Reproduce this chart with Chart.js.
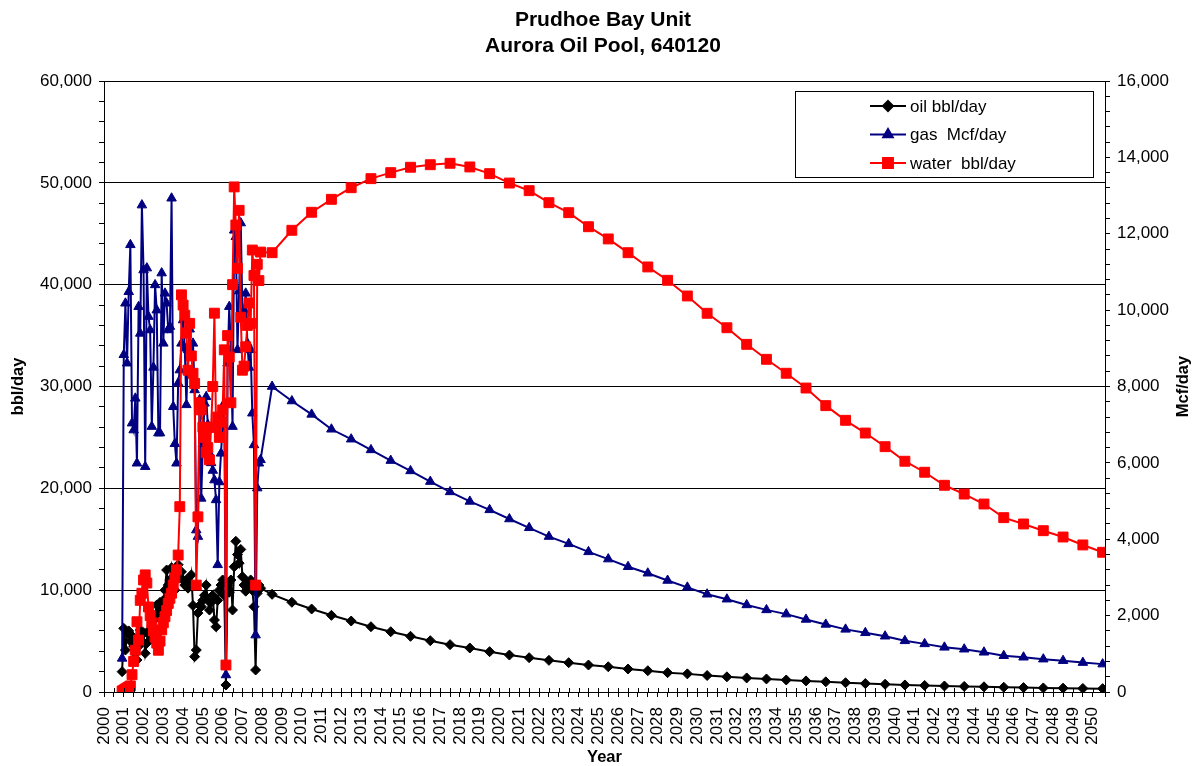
<!DOCTYPE html>
<html>
<head>
<meta charset="utf-8">
<script src="https://cdn.jsdelivr.net/npm/chart.js@4.4.1/dist/chart.umd.min.js"></script>
<style>
html, body { margin: 0; padding: 0; background: #fff; }
</style>
</head>
<body>
<canvas id="prodChart" width="1203" height="766"></canvas>
<script>
var titleLines = ["Prudhoe Bay Unit", "Aurora Oil Pool, 640120"];
var seriesNames = ["oil bbl/day", "gas  Mcf/day", "water  bbl/day"];
var seriesColors = ["#000000", "#000080", "#ff0000"];

// monthly history, Dec 2000 - Dec 2007
var histMonths = [
    "2000-12",
    "2001-01", "2001-02", "2001-03", "2001-04", "2001-05", "2001-06", "2001-07", "2001-08", "2001-09", "2001-10", "2001-11", "2001-12",
    "2002-01", "2002-02", "2002-03", "2002-04", "2002-05", "2002-06", "2002-07", "2002-08", "2002-09", "2002-10", "2002-11", "2002-12",
    "2003-01", "2003-02", "2003-03", "2003-04", "2003-05", "2003-06", "2003-07", "2003-08", "2003-09", "2003-10", "2003-11", "2003-12",
    "2004-01", "2004-02", "2004-03", "2004-04", "2004-05", "2004-06", "2004-07", "2004-08", "2004-09", "2004-10", "2004-11", "2004-12",
    "2005-01", "2005-02", "2005-03", "2005-04", "2005-05", "2005-06", "2005-07", "2005-08", "2005-09", "2005-10", "2005-11", "2005-12",
    "2006-01", "2006-02", "2006-03", "2006-04", "2006-05", "2006-06", "2006-07", "2006-08", "2006-09", "2006-10", "2006-11", "2006-12",
    "2007-01", "2007-02", "2007-03", "2007-04", "2007-05", "2007-06", "2007-07", "2007-08", "2007-09", "2007-10", "2007-11", "2007-12"
];
var histOil = [
    2000,
    6250, 4120, 5760, 6000, 5000, 5500, 4500, 3800, 3140, 4500, 6090, 5000,
    5800, 3800, 4800, 6000, 5500, 6500, 7000, 7500, 8540, 7800, 8800, 8000,
    9000, 10000, 11980, 10500, 11000, 12200, 11000, 10000, 11500, 12500, 11200, 11800,
    11000, 10500, 11000, 10200, 10500, 11500, 8500, 3470, 4120, 7750, 8500, 8380,
    9000, 9500, 10500, 9000, 8050, 8800, 9500, 7070, 6410, 9000, 10000, 10500,
    11000, 9500, 690, 10500, 9800, 11000, 8050, 12300, 14800, 13500, 12650, 14000,
    11320, 10500, 9900, 10800, 10200, 11000, 10000, 8380, 2160, 9690, 10500, 10200
];
var histGas = [
    880,
    8830, 10180, 8610, 10480, 11710, 7040, 6860, 7690, 5990, 10090, 9390, 12750,
    11050, 5900, 11100, 9830, 9480, 6950, 8500, 10660, 10000, 6780, 6780, 10970,
    9130, 10440, 10180, 9480, 9570, 12930, 7470, 6500, 5990, 8090, 8430, 9130,
    9740, 9000, 7520, 8960, 9500, 8800, 9130, 7910, 4240, 4070, 7650, 5070,
    6500, 7560, 7730, 7000, 6250, 6000, 5800, 5550, 5030, 3330, 5500, 6250,
    7000, 7560, 445, 8610, 10090, 8960, 6950, 12090, 11920, 8960, 10500, 12280,
    9920, 10000, 10440, 9130, 8500, 8960, 7300, 6470, 1490, 5340, 5990, 6080
];
var histWater = [
    100,
    200, 300, 400, 500, 600, 1700, 3000, 4100, 6900, 5100, 9000, 9700,
    11000, 11500, 10700, 8350, 7500, 6800, 6000, 5400, 4800, 4100, 5000, 6100,
    6800, 7400, 8000, 8700, 9200, 9700, 10500, 11200, 12000, 13450, 18200, 39000,
    38000, 37000, 35250, 31600, 36200, 33000, 31300, 30300, 10500, 17200, 28400, 27700,
    26000, 25000, 23500, 24000, 22800, 26000, 30000, 37200, 26000, 27000, 25000, 26500,
    27700, 33600, 2650, 35000, 32900, 28400, 40000, 49600, 45860, 41600, 47300, 36800,
    31600, 32000, 33900, 36000, 38200, 36200, 43400, 40900, 10500, 42000, 40400, 43200
];

// yearly forecast, plotted mid-year
var fcstYears = [
    2008, 2009, 2010, 2011, 2012, 2013, 2014, 2015, 2016, 2017, 2018, 2019, 2020, 2021, 2022,
    2023, 2024, 2025, 2026, 2027, 2028, 2029, 2030, 2031, 2032, 2033, 2034, 2035, 2036, 2037,
    2038, 2039, 2040, 2041, 2042, 2043, 2044, 2045, 2046, 2047, 2048, 2049, 2050
];
var fcstOil = [
    9590, 8810, 8150, 7530, 6970, 6410, 5920, 5470, 5040, 4650, 4320, 3960, 3630, 3370, 3110,
    2880, 2650, 2480, 2260, 2090, 1900, 1780, 1620, 1490, 1380, 1280, 1180, 1090, 1000, 910,
    830, 760, 690, 640, 590, 550, 510, 470, 430, 400, 380, 350, 330
];
var fcstGas = [
    8000, 7620, 7270, 6880, 6620, 6340, 6060, 5790, 5510, 5240, 4990, 4770, 4530, 4300, 4070,
    3880, 3670, 3480, 3280, 3110, 2920, 2740, 2560, 2430, 2280, 2150, 2040, 1900, 1770, 1640,
    1550, 1460, 1340, 1260, 1170, 1120, 1040, 950, 910, 860, 820, 770, 730
];
var fcstWater = [
    43140, 45340, 47110, 48380, 49520, 50410, 51000, 51530, 51780, 51920, 51560, 50900, 49980, 49230, 48050,
    47070, 45690, 44490, 43140, 41740, 40430, 38890, 37190, 35770, 34140, 32670, 31300, 29850, 28120, 26680,
    25430, 24090, 22660, 21580, 20300, 19440, 18460, 17120, 16500, 15840, 15220, 14440, 13720
];

var leftTicksMajor = 10000, rightTicksMajor = 2000;

function monthToYear(s) {
    var p = s.split("-");
    return Number(p[0]) + (Number(p[1]) - 1) / 12;
}

var xDates = histMonths.map(monthToYear).concat(fcstYears.map(function(y) { return y + 0.5; }));

function toPoints(hist, fcst) {
    var vals = hist.concat(fcst);
    var pts = [];
    for (var i = 0; i < vals.length; i++) {
        pts.push({ x: xDates[i], y: vals[i] });
    }
    return pts;
}

var FONT = "Arial, 'Liberation Sans', sans-serif";

var textPlugin = {
    id: "textPlugin",
    afterDraw: function(chart) {
        var ctx = chart.ctx;
        var area = chart.chartArea;
        ctx.save();

        // inner half of the crossing ticks on the x axis
        var xs = chart.scales.x;
        ctx.strokeStyle = "#000";
        ctx.lineWidth = 1;
        ctx.beginPath();
        xs.ticks.forEach(function(t) {
            var px = Math.round(xs.getPixelForValue(t.value)) + 0.5;
            ctx.moveTo(px, area.bottom - 4);
            ctx.lineTo(px, area.bottom);
        });
        ctx.stroke();

        ctx.fillStyle = "#000";
        ctx.textAlign = "center";
        ctx.textBaseline = "middle";

        ctx.font = "bold 21px " + FONT;
        ctx.fillText(titleLines[0], 603, 20);
        ctx.fillText(titleLines[1], 603, 46);

        ctx.font = "bold 16.5px " + FONT;
        ctx.fillText("Year", (area.left + area.right) / 2, 757);

        var midY = (area.top + area.bottom) / 2;
        ctx.save();
        ctx.translate(18, midY);
        ctx.rotate(-Math.PI / 2);
        ctx.fillText("bbl/day", 0, 0);
        ctx.restore();

        ctx.save();
        ctx.translate(1183, midY);
        ctx.rotate(-Math.PI / 2);
        ctx.fillText("Mcf/day", 0, 0);
        ctx.restore();

        // legend box
        var bx = 795.5, by = 91.5, bw = 298, bh = 86;
        ctx.fillStyle = "#fff";
        ctx.fillRect(bx, by, bw, bh);
        ctx.strokeStyle = "#000";
        ctx.lineWidth = 1;
        ctx.strokeRect(bx, by, bw, bh);

        var rows = [106, 134.5, 163];
        ctx.font = "17px " + FONT;
        ctx.textAlign = "left";
        chart.data.datasets.forEach(function(ds, i) {
            var y = rows[i];
            ctx.strokeStyle = ds.borderColor;
            ctx.lineWidth = 2;
            ctx.beginPath();
            ctx.moveTo(870, y);
            ctx.lineTo(906, y);
            ctx.stroke();
            Chart.helpers.drawPoint(ctx, {
                pointStyle: ds.pointStyle,
                radius: ds.pointRadius,
                borderWidth: 1
            }, 888, y);
            ctx.fillStyle = ds.backgroundColor;
            ctx.fill();
            ctx.fillStyle = "#000";
            ctx.fillText(seriesNames[i], 910, y + 1);
        });
        ctx.restore();
    }
};

new Chart(document.getElementById("prodChart"), {
    type: "line",
    data: {
        datasets: [
            {
                label: seriesNames[0],
                data: toPoints(histOil, fcstOil),
                yAxisID: "yL",
                borderColor: seriesColors[0],
                backgroundColor: seriesColors[0],
                borderWidth: 2,
                pointStyle: "rectRot",
                pointRadius: 5,
                pointBorderWidth: 1,
                order: 3
            },
            {
                label: seriesNames[1],
                data: toPoints(histGas, fcstGas),
                yAxisID: "yR",
                borderColor: seriesColors[1],
                backgroundColor: seriesColors[1],
                borderWidth: 2,
                pointStyle: "triangle",
                pointRadius: 5.5,
                pointBorderWidth: 1,
                order: 2
            },
            {
                label: seriesNames[2],
                data: toPoints(histWater, fcstWater),
                yAxisID: "yL",
                borderColor: seriesColors[2],
                backgroundColor: seriesColors[2],
                borderWidth: 2,
                pointStyle: "rect",
                pointRadius: 7,
                pointBorderWidth: 1,
                order: 1
            }
        ]
    },
    options: {
        responsive: false,
        animation: false,
        devicePixelRatio: 1,
        layout: { padding: { top: 81, left: 0, right: 0, bottom: 0 } },
        plugins: {
            legend: { display: false },
            title: { display: false },
            tooltip: { enabled: false }
        },
        scales: {
            x: {
                type: "linear",
                min: 2000,
                max: 2050.62,
                afterFit: function(s) { s.height = 74; },
                border: { color: "#000", width: 1 },
                grid: { drawOnChartArea: false, tickLength: 5, color: "#000" },
                ticks: {
                    stepSize: 0.5,
                    autoSkip: false,
                    maxRotation: 90,
                    minRotation: 90,
                    padding: 10,
                    color: "#000",
                    font: { family: FONT, size: 17 },
                    callback: function(v) { return Number.isInteger(v) ? String(v) : ""; }
                }
            },
            yL: {
                position: "left",
                min: 0,
                max: 60000,
                afterFit: function(s) { s.width = 104; },
                border: { color: "#000", width: 1 },
                grid: {
                    tickLength: 5,
                    tickColor: "#000",
                    color: function(c) { return c.tick && c.tick.value % leftTicksMajor === 0 ? "#000" : "rgba(0,0,0,0)"; }
                },
                ticks: {
                    stepSize: 2000,
                    maxTicksLimit: 100,
                    autoSkip: false,
                    padding: 7,
                    color: "#000",
                    font: { family: FONT, size: 17 },
                    callback: function(v) { return v % leftTicksMajor === 0 ? v.toLocaleString("en-US") : ""; }
                }
            },
            yR: {
                position: "right",
                min: 0,
                max: 16000,
                afterFit: function(s) { s.width = 98; },
                border: { color: "#000", width: 1 },
                grid: { drawOnChartArea: false, tickLength: 5, color: "#000" },
                ticks: {
                    stepSize: 400,
                    maxTicksLimit: 100,
                    autoSkip: false,
                    padding: 7,
                    color: "#000",
                    font: { family: FONT, size: 17 },
                    callback: function(v) { return v % rightTicksMajor === 0 ? v.toLocaleString("en-US") : ""; }
                }
            }
        }
    },
    plugins: [textPlugin]
});
</script>
</body>
</html>
